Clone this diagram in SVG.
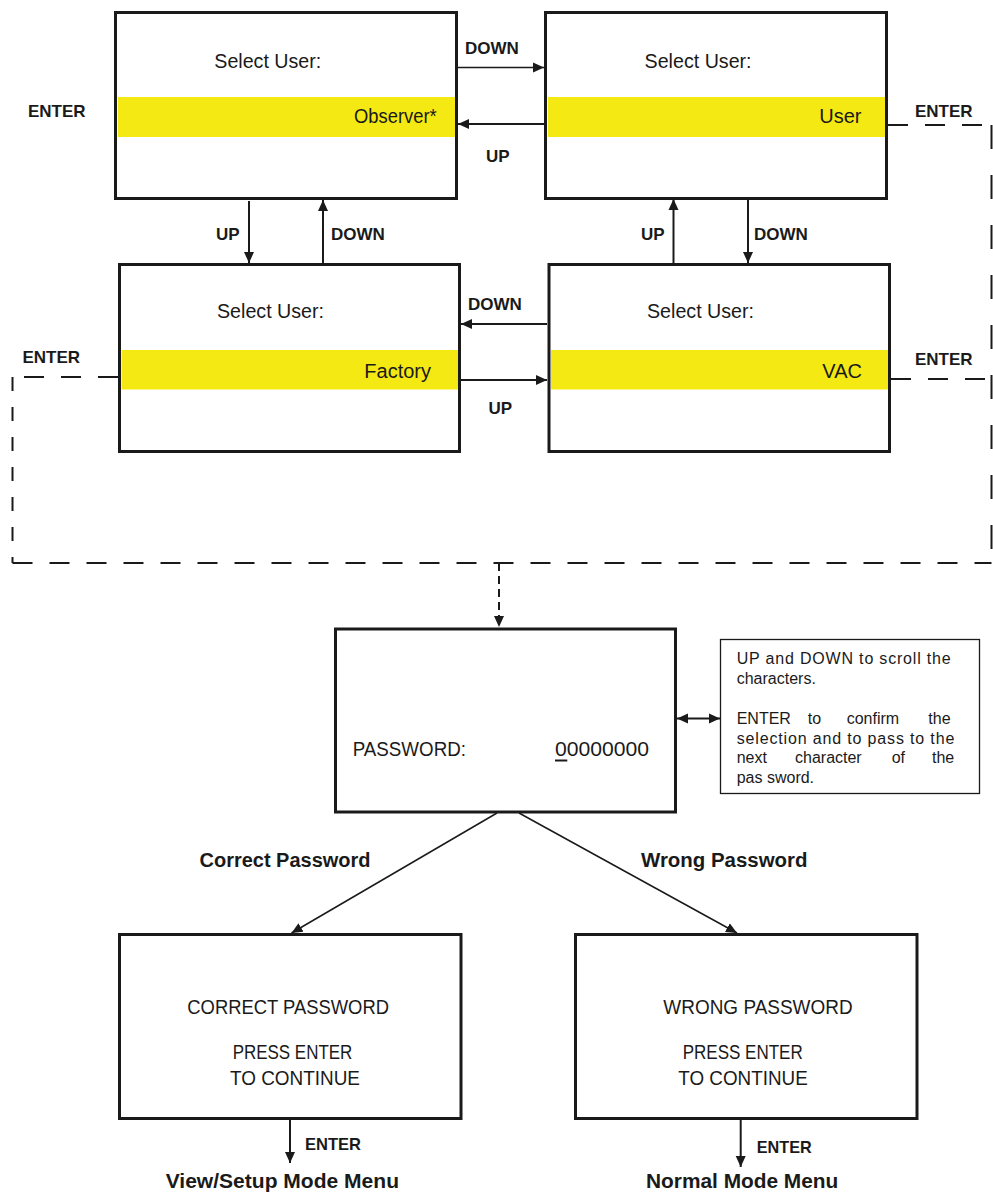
<svg xmlns="http://www.w3.org/2000/svg" width="993" height="1194" viewBox="0 0 993 1194">
<style>
.box{fill:#fff;stroke:#1a1a1a;stroke-width:3}
.band{fill:#f5e914}
.note{fill:#fff;stroke:#1a1a1a;stroke-width:1.3}
.t{font-family:"Liberation Sans",Arial,sans-serif;font-size:20px;fill:#1a1a1a}
.b{font-family:"Liberation Sans",Arial,sans-serif;font-size:17px;font-weight:bold;fill:#1a1a1a}
.bb{font-family:"Liberation Sans",Arial,sans-serif;font-size:20px;font-weight:bold;fill:#1a1a1a}
.n{font-family:"Liberation Sans",Arial,sans-serif;font-size:16px;fill:#1a1a1a}
.ar{fill:none;stroke:#1a1a1a;stroke-width:2;marker-end:url(#ah)}
.arth{fill:none;stroke:#1a1a1a;stroke-width:1.5;marker-end:url(#ah)}
.dh{fill:none;stroke:#1a1a1a;stroke-width:2;stroke-dasharray:20 17}
.dl{fill:none;stroke:#1a1a1a;stroke-width:2;stroke-dasharray:14 16}
.dr{fill:none;stroke:#1a1a1a;stroke-width:2;stroke-dasharray:24 26}
</style>
<defs>
<marker id="ah" markerUnits="userSpaceOnUse" markerWidth="12" markerHeight="12" refX="11" refY="5" orient="auto-start-reverse" viewBox="0 0 12 10">
<path d="M0,0 L11,5 L0,10 z" fill="#1a1a1a"/>
</marker>
</defs>

<g id="connectors">
<line class="arth" x1="458" y1="67.5" x2="544" y2="67.5"/>
<line class="ar" x1="544" y1="124" x2="458" y2="124"/>
<line class="ar" x1="249" y1="201" x2="249" y2="263"/>
<line class="ar" x1="323" y1="263" x2="323" y2="200"/>
<line class="ar" x1="673.5" y1="263" x2="673.5" y2="199"/>
<line class="ar" x1="748" y1="199" x2="748" y2="263"/>
<line class="ar" x1="547" y1="324" x2="461" y2="324"/>
<line class="ar" x1="461" y1="380" x2="547" y2="380"/>
<line class="dh" x1="888" y1="125" x2="991.5" y2="125"/>
<line class="dr" x1="991.5" y1="125" x2="991.5" y2="563"/>
<line class="dh" x1="891" y1="379" x2="991.5" y2="379"/>
<line class="dh" x1="118" y1="377" x2="12.5" y2="377"/>
<line class="dl" x1="12.5" y1="377" x2="12.5" y2="563"/>
<line class="dh" x1="12.5" y1="563" x2="991.5" y2="563"/>
<line x1="499" y1="563" x2="499" y2="627" fill="none" stroke="#1a1a1a" stroke-width="2" stroke-dasharray="8 5" marker-end="url(#ah)"/>
<line x1="677" y1="718.5" x2="720" y2="718.5" fill="none" stroke="#1a1a1a" stroke-width="2" marker-start="url(#ah)" marker-end="url(#ah)"/>
<line class="arth" x1="497" y1="813" x2="291.5" y2="933"/>
<line class="arth" x1="519" y1="813" x2="737" y2="933"/>
<line class="ar" x1="290" y1="1120" x2="290" y2="1163"/>
<line class="ar" x1="740.7" y1="1120" x2="740.7" y2="1167"/>
<text class="b" x="465" y="54">DOWN</text>
<text class="b" x="486" y="162">UP</text>
<text class="b" x="216" y="240">UP</text>
<text class="b" x="331" y="240">DOWN</text>
<text class="b" x="641" y="240">UP</text>
<text class="b" x="754" y="240">DOWN</text>
<text class="b" x="468" y="310">DOWN</text>
<text class="b" x="488.6" y="414">UP</text>
<text class="b" x="28" y="117">ENTER</text>
<text class="b" x="915" y="117">ENTER</text>
<text class="b" x="22.5" y="363">ENTER</text>
<text class="b" x="915" y="365">ENTER</text>
<text class="bb" x="199.5" y="867" textLength="171" lengthAdjust="spacingAndGlyphs">Correct Password</text>
<text class="bb" x="641" y="867" textLength="166.5" lengthAdjust="spacingAndGlyphs">Wrong Password</text>
<text class="b" x="305" y="1150" textLength="56" lengthAdjust="spacingAndGlyphs">ENTER</text>
<text class="b" x="756.7" y="1152.7" textLength="55" lengthAdjust="spacingAndGlyphs">ENTER</text>
<text class="bb" x="165.7" y="1188.3" textLength="233.3" lengthAdjust="spacingAndGlyphs">View/Setup Mode Menu</text>
<text class="bb" x="646" y="1188.3" textLength="192.3" lengthAdjust="spacingAndGlyphs">Normal Mode Menu</text>
</g>

<g id="observer">
<rect class="box" x="115.5" y="12.5" width="341" height="186"/>
<rect class="band" x="118" y="97" width="337" height="40"/>
<text class="t" x="214.3" y="68" textLength="107" lengthAdjust="spacingAndGlyphs">Select User:</text>
<text class="t" x="354" y="123" textLength="82.7" lengthAdjust="spacingAndGlyphs">Observer*</text>
</g>

<g id="user">
<rect class="box" x="545.5" y="12.5" width="341" height="186"/>
<rect class="band" x="548" y="97" width="337" height="40"/>
<text class="t" x="644.6" y="68" textLength="107" lengthAdjust="spacingAndGlyphs">Select User:</text>
<text class="t" x="861.5" y="123" text-anchor="end">User</text>
</g>

<g id="factory">
<rect class="box" x="119.5" y="264.5" width="340" height="187"/>
<rect class="band" x="121.5" y="350" width="336.5" height="39.5"/>
<text class="t" x="217" y="318" textLength="107" lengthAdjust="spacingAndGlyphs">Select User:</text>
<text class="t" x="431" y="378" text-anchor="end">Factory</text>
</g>

<g id="vac">
<rect class="box" x="549" y="264.5" width="340.5" height="187"/>
<rect class="band" x="551" y="350" width="337" height="39.5"/>
<text class="t" x="647" y="318" textLength="107" lengthAdjust="spacingAndGlyphs">Select User:</text>
<text class="t" x="862" y="378" text-anchor="end">VAC</text>
</g>

<g id="password">
<rect class="box" x="335.5" y="629" width="340" height="183"/>
<text class="t" x="352.7" y="756" textLength="113.3" lengthAdjust="spacingAndGlyphs">PASSWORD:</text>
<text class="t" x="555" y="756" textLength="94" lengthAdjust="spacingAndGlyphs">00000000</text>
<line x1="555" y1="760.5" x2="567.3" y2="760.5" stroke="#1a1a1a" stroke-width="2"/>
</g>

<g id="help-note">
<rect class="note" x="720.5" y="639.5" width="259" height="154"/>
<text class="n" x="736.7" y="664" textLength="214" lengthAdjust="spacing">UP and DOWN to scroll the</text>
<text class="n" x="736.7" y="684">characters.</text>
<text class="n" y="724"><tspan x="736.7">ENTER</tspan><tspan x="807.7">to</tspan><tspan x="846.7">confirm</tspan><tspan x="928.3">the</tspan></text>
<text class="n" x="736.7" y="743.5" textLength="217.6" lengthAdjust="spacing">selection and to pass to the</text>
<text class="n" y="763"><tspan x="736.7">next</tspan><tspan x="795">character</tspan><tspan x="891.7">of</tspan><tspan x="932">the</tspan></text>
<text class="n" x="736.7" y="782.5">pas sword.</text>
</g>

<g id="correct">
<rect class="box" x="119.5" y="934.5" width="341.5" height="184"/>
<text class="t" x="187.3" y="1014" textLength="201.7" lengthAdjust="spacingAndGlyphs">CORRECT PASSWORD</text>
<text class="t" x="232.7" y="1059.3" textLength="119.6" lengthAdjust="spacingAndGlyphs">PRESS ENTER</text>
<text class="t" x="230" y="1085" textLength="130" lengthAdjust="spacingAndGlyphs">TO CONTINUE</text>
</g>

<g id="wrong">
<rect class="box" x="575.5" y="934.5" width="341.5" height="184"/>
<text class="t" x="663.3" y="1014" textLength="189.4" lengthAdjust="spacingAndGlyphs">WRONG PASSWORD</text>
<text class="t" x="682.7" y="1059.3" textLength="120" lengthAdjust="spacingAndGlyphs">PRESS ENTER</text>
<text class="t" x="678.3" y="1085" textLength="129.4" lengthAdjust="spacingAndGlyphs">TO CONTINUE</text>
</g>
</svg>
